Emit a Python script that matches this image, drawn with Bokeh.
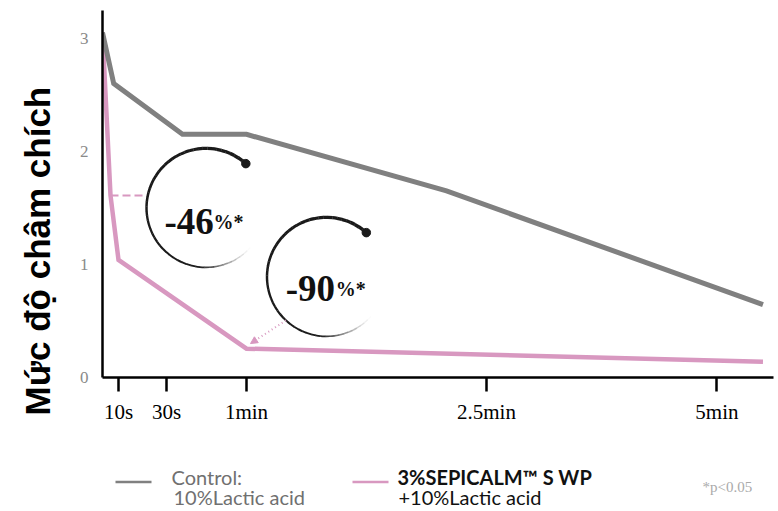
import numpy as np
from bokeh.plotting import figure
from bokeh.layouts import column
from bokeh.models import Range1d, FixedTicker, Label, Arrow, NormalHead, ColumnDataSource, Title
from bokeh.embed import file_html
from bokeh.resources import INLINE

# Stinging score after application, time in seconds
CONTROL_T = [0, 7, 36, 60, 135, 330]
CONTROL_Y = [3.05, 2.60, 2.15, 2.15, 1.65, 0.645]
SEPICALM_T = [0, 5, 10, 60, 330]
SEPICALM_Y = [3.05, 1.61, 1.04, 0.255, 0.14]

TICK_SECONDS = [10, 30, 60, 150, 300]
TICK_LABELS = ["10s", "30s", "1min", "2.5min", "5min"]
Y_TICKS = [0, 1, 2, 3]

REDUCTIONS = ["-46", "-90"]

GRAY = "#808080"
PINK = "#D898C0"

# Broken time axis: first 10 s squeezed, after 2.5 min compressed
SCALE_SECONDS = [0, 10, 30, 60, 150, 300]
SCALE_UNITS = [0.0, 0.1, 0.4, 0.9, 2.4, 3.84]
TAIL_SLOPE = (SCALE_UNITS[-1] - SCALE_UNITS[-2]) / (SCALE_SECONDS[-1] - SCALE_SECONDS[-2])


def axis_pos(t):
    t = np.asarray(t, dtype=float)
    u = np.interp(t, SCALE_SECONDS, SCALE_UNITS)
    tail = SCALE_UNITS[-1] + (t - SCALE_SECONDS[-1]) * TAIL_SLOPE
    return np.where(t > SCALE_SECONDS[-1], tail, u)


W = 778
H_MAIN, H_LEG = 445, 66
BL, BR, BT, BB = 102, 5, 10, 68
FRAME_W = W - BL - BR
FRAME_H = H_MAIN - BT - BB
X_PX = 160.0                 # pixels per axis unit
Y_END = 3.245
X_END = FRAME_W / X_PX
Y_PX = FRAME_H / Y_END

p = figure(width=W, height=H_MAIN, x_range=Range1d(0, X_END), y_range=Range1d(0, Y_END),
           toolbar_location=None, output_backend="svg",
           min_border_left=BL, min_border_right=BR, min_border_top=BT, min_border_bottom=BB)
p.outline_line_color = None
p.grid.visible = False
p.background_fill_color = "white"
p.border_fill_color = "white"

# x axis
tick_pos = [float(v) for v in axis_pos(TICK_SECONDS)]
xa = p.xaxis[0]
xa.ticker = FixedTicker(ticks=tick_pos)
xa.major_label_overrides = {pos: lab for pos, lab in zip(tick_pos, TICK_LABELS)}
xa.axis_line_width = 2.5
xa.axis_line_color = "black"
xa.major_tick_in = 0
xa.major_tick_out = 14
xa.major_tick_line_width = 2.5
xa.major_tick_line_color = "black"
xa.minor_tick_in = 0
xa.minor_tick_out = 0
xa.major_label_text_font = "Liberation Serif"
xa.major_label_text_font_size = "21px"
xa.major_label_text_color = "black"
xa.major_label_standoff = 8

# y axis
ya = p.yaxis[0]
ya.ticker = FixedTicker(ticks=Y_TICKS)
ya.axis_line_width = 2.5
ya.axis_line_color = "black"
ya.major_tick_in = 0
ya.major_tick_out = 0
ya.minor_tick_in = 0
ya.minor_tick_out = 0
ya.major_label_text_font = "Liberation Serif"
ya.major_label_text_font_size = "17px"
ya.major_label_text_color = "#8a8a8a"
ya.major_label_standoff = 14

# y axis title in the left panel, starting a little below the axis foot
p.add_layout(Title(text="Mức độ châm chích", align="left", vertical_align="top",
                   offset=-38, standoff=35,
                   text_font="Liberation Sans", text_font_style="bold", text_font_size="35px",
                   text_color="black"), "left")

# series
p.line(axis_pos(SEPICALM_T), SEPICALM_Y, line_color=PINK, line_width=4.5, line_join="miter")
p.line(axis_pos(CONTROL_T), CONTROL_Y, line_color=GRAY, line_width=5, line_join="miter")

# reduction badges: open ring with a dot at its head
R = 59.5
CENTERS = [(0.647, 1.50), (1.40, 0.89)]
TEXT_OFFSETS = [(-41.5, -14, 7.5), (-40.7, -12, 9.3)]
a0, a1 = np.deg2rad(48), np.deg2rad(318)
n = 60
edges = np.linspace(a0, a1, n + 1)
frac = (np.arange(n) + 0.5) / n
widths = 3.6 - 2.3 * frac
alphas = np.clip((1.0 - frac) / 0.2, 0.0, 1.0) ** 1.3

for (cx, cy), (dx, dy, pdx), txt in zip(CENTERS, TEXT_OFFSETS, REDUCTIONS):
    src = ColumnDataSource(dict(x=[cx] * n, y=[cy] * n, start=edges[:-1], end=edges[1:] + 0.004,
                                w=widths, a=alphas))
    p.arc(x="x", y="y", radius=R, radius_units="screen", start_angle="start", end_angle="end",
          line_width="w", line_alpha="a", line_color="#1a1a1a", source=src)
    p.scatter([cx + R * np.cos(a0) / X_PX], [cy + R * np.sin(a0) / Y_PX], size=8.5,
              fill_color="#1a1a1a", line_color="#1a1a1a")
    p.add_layout(Label(x=cx, y=cy, x_offset=dx, y_offset=dy, text=txt,
                       text_font="Liberation Serif", text_font_style="bold",
                       text_font_size="37px", text_color="#111111",
                       text_align="left", text_baseline="alphabetic"))
    p.add_layout(Label(x=cx, y=cy, x_offset=pdx, y_offset=dy, text="%*",
                       text_font="Liberation Serif", text_font_style="bold",
                       text_font_size="20px", text_color="#111111",
                       text_align="left", text_baseline="alphabetic"))

# connector from the 10 s reading to the first badge
c1x, c1y = CENTERS[0]
p.add_layout(Arrow(end=None, x_start=float(axis_pos(SEPICALM_T[1])), y_start=SEPICALM_Y[1],
                   x_end=c1x - R / X_PX, y_end=SEPICALM_Y[1],
                   line_color=PINK, line_width=2, line_dash="8 4"))

# dotted pointer from the second badge to the 1 min reading
c2x, c2y = CENTERS[1]
ang = np.deg2rad(227)
p.add_layout(Arrow(end=NormalHead(size=7, fill_color=PINK, line_color=PINK),
                   x_start=c2x + R * np.cos(ang) / X_PX, y_start=c2y + R * np.sin(ang) / Y_PX,
                   x_end=0.925, y_end=0.30,
                   line_color=PINK, line_width=2, line_dash="1 3"))

# legend strip under the chart; x in page pixels, y measured downward from its top
lg = figure(width=W, height=H_LEG, x_range=Range1d(BL, W - BR), y_range=Range1d(H_LEG, 0),
            toolbar_location=None, output_backend="svg",
            min_border_left=BL, min_border_right=BR, min_border_top=0, min_border_bottom=0)
lg.axis.visible = False
lg.grid.visible = False
lg.outline_line_color = None
lg.background_fill_color = "white"
lg.border_fill_color = "white"

SWATCH_Y = 36.5
lg.segment(x0=[115, 352], y0=[SWATCH_Y] * 2, x1=[151, 388], y1=[SWATCH_Y] * 2,
           line_color=[GRAY, PINK], line_width=2.5)
LEGEND_TEXT = [
    (171, 31, "Control:", "normal", "#707070"),
    (173, 51, "10%Lactic acid", "normal", "#707070"),
    (397, 31, "3%SEPICALM™ S WP", "bold", "#111111"),
    (398, 51, "+10%Lactic acid", "normal", "#111111"),
]
for x, y, t, style, col in LEGEND_TEXT:
    lg.add_layout(Label(x=x, y=y, text=t, text_font="Lato", text_font_style=style,
                        text_font_size="20px", text_color=col, text_baseline="alphabetic"))
lg.add_layout(Label(x=702, y=41, text="*p<0.05", text_font="Liberation Serif",
                    text_font_size="15px", text_color="#aaaaaa", text_baseline="alphabetic"))

layout = column(p, lg, spacing=0)
open("out.html", "w").write(file_html(layout, INLINE))
